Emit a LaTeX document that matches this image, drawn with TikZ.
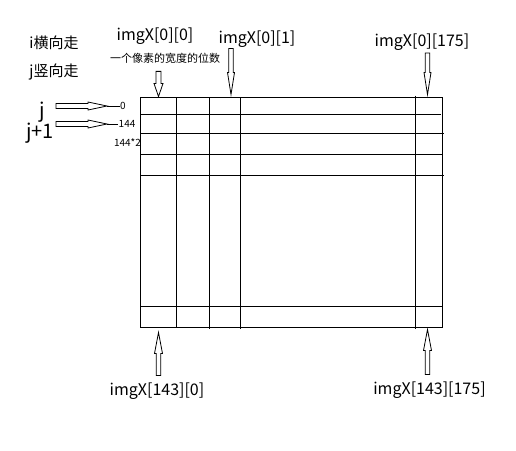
\documentclass[tikz,border=0pt]{standalone}
\usepackage{fontspec}
\setmainfont{Noto Sans CJK SC}
\usetikzlibrary{calc}
\tikzset{
  % hollow block arrow: {head length}{head half width}{shaft half width}
  hollow/.style n args={3}{draw, line width=0.8pt, line join=miter,
    to path={let \p1=($(\tikztotarget)!#1!(\tikztostart)$) in
      ($(\tikztostart)!#3!90:(\tikztotarget)$) -- ($(\p1)!#3!90:(\tikztotarget)$)
      -- ($(\p1)!#2!90:(\tikztotarget)$) -- (\tikztotarget)
      -- ($(\p1)!#2!-90:(\tikztotarget)$) -- ($(\p1)!#3!-90:(\tikztotarget)$)
      -- ($(\tikztostart)!#3!-90:(\tikztotarget)$) -- cycle}},
  tagtext/.style={font=\fontsize{16}{18}\selectfont, inner sep=1pt},
  sidetext/.style={font=\fontsize{15}{17}\selectfont, inner sep=1pt},
  bigtext/.style={font=\fontsize{20}{22}\selectfont, inner sep=1pt},
  notetext/.style={font=\fontsize{11}{13}\selectfont, inner sep=1pt},
  numtext/.style={font=\fontsize{10}{12}\selectfont, inner sep=0.5pt}
}
\begin{document}
\begin{tikzpicture}[x=1pt, y=-1pt]
    \useasboundingbox (0,0) rectangle (516,450);
    % outer rectangle
    \draw[line width=0.9pt] (140.7,97.3) rectangle (442,327.3);
    % vertical grid lines
    \draw[line width=0.9pt] (176.3,97.3) -- (176.3,327.3);
    \draw[line width=0.9pt] (209.3,97.3) -- (209.3,328.5);
    \draw[line width=0.9pt] (240.3,97.3) -- (240.3,329);
    \draw[line width=0.9pt] (415.3,95.7) -- (415.3,329.3);
    % horizontal grid lines
    \draw[line width=0.9pt] (140.7,114.3) -- (440.7,114.3);
    \draw[line width=0.9pt] (140.7,133.3) -- (443.7,133.3);
    \draw[line width=0.9pt] (140.7,154.3) -- (442,154.3);
    \draw[line width=0.9pt] (140.7,175.3) -- (444,175.3);
    \draw[line width=0.9pt] (140.7,306.7) -- (442,306.7);
    % direction notes
    \node[sidetext] (iwalk) at (54,43) {i横向走};
    \node[sidetext] (jwalk) at (54,72) {j竖向走};
    % row offsets
    \node[bigtext, anchor=east, inner xsep=11pt] (j) at (56,112) {j};
    \node[bigtext, anchor=east, inner xsep=2pt] (j1) at (56,133) {j+1};
    \node[numtext, anchor=west] (n0) at (119.5,106) {0};
    \node[numtext, anchor=west] (n144) at (118,124) {144};
    \node[numtext] (n288) at (127.5,143) {144*2};
    \coordinate (r0) at (107,106);
    \coordinate (r1) at (107,124);
    \draw[hollow={19pt}{4pt}{2.5pt}] (j.east |- r0) to (r0);
    \draw[line width=0.8pt] (r0) -- (n0.west);
    \draw[hollow={19pt}{4pt}{2.5pt}] (j1.east |- r1) to (r1);
    \draw[line width=0.8pt] (r1) -- (n144.west);
    % top labels
    \node[tagtext] (t00) at (155,36) {imgX[0][0]};
    \node[notetext] (note) at (165,58) {一个像素的宽度的位数};
    \node[tagtext] (t01) at (257,39) {imgX[0][1]};
    \node[tagtext] (t0e) at (422,42) {imgX[0][175]};
    \coordinate (e00) at (158.5,96.5);
    \coordinate (e01) at (231,94.5);
    \coordinate (e0e) at (427.5,94.5);
    \draw[hollow={13pt}{4.5pt}{2.5pt}] ($(note.south -| e00)+(0,7)$) to (e00);
    \draw[hollow={22pt}{3.5pt}{2.2pt}] (t01.south -| e01) to (e01);
    \draw[hollow={22pt}{3.5pt}{2.2pt}] ($(t0e.south -| e0e)+(0,1.5)$) to (e0e);
    % bottom labels
    \node[tagtext] (b00) at (157,391) {imgX[143][0]};
    \node[tagtext] (b0e) at (429.5,390) {imgX[143][175]};
    \coordinate (e10) at (158.5,332.5);
    \coordinate (e1e) at (427.5,329.5);
    \draw[hollow={21pt}{4pt}{2.2pt}] ($(b00.north -| e10)+(0,-6)$) to (e10);
    \draw[hollow={21pt}{4pt}{2.2pt}] ($(b0e.north -| e1e)+(0,-6)$) to (e1e);
\end{tikzpicture}
\end{document}
